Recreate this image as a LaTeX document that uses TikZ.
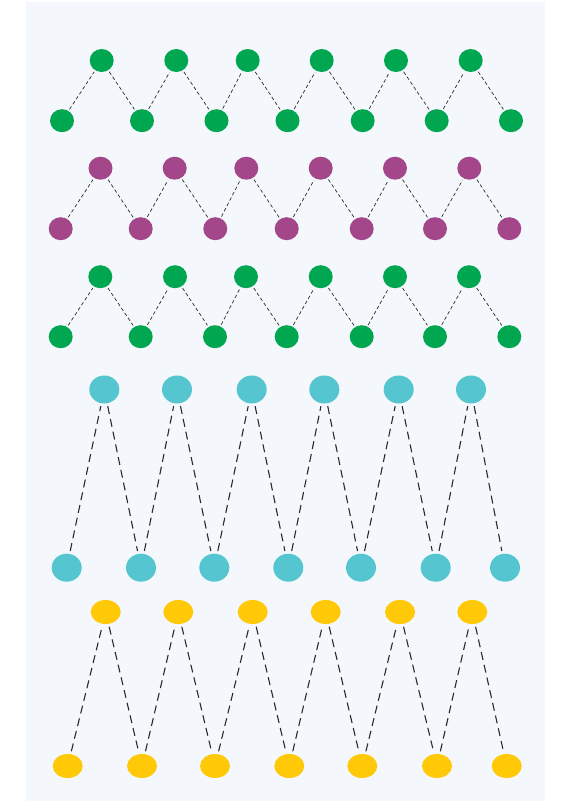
\documentclass[tikz,border=0pt]{standalone}
\usepackage{tikz}
\usetikzlibrary{shapes,positioning}

\definecolor{dotgreen}{HTML}{00A650}
\definecolor{dotplum}{HTML}{A4478A}
\definecolor{dotcyan}{HTML}{55C5CF}
\definecolor{dotyellow}{HTML}{FFC907}
\definecolor{paper}{HTML}{F4F8FC}
\definecolor{wire}{HTML}{2A2A2A}

\begin{document}
\begin{tikzpicture}[
    x=1pt, y=-1pt,
    dot/.style={ellipse, inner sep=0pt, outer sep=0pt},
    gdot/.style={dot, fill=dotgreen, minimum width=24pt, minimum height=23pt},
    pdot/.style={dot, fill=dotplum, minimum width=24pt, minimum height=23pt},
    cdot/.style={dot, fill=dotcyan, minimum width=30pt, minimum height=28pt},
    ydot/.style={dot, fill=dotyellow, minimum width=30pt, minimum height=24pt},
    link/.style={draw=wire, line width=0.7pt, dash pattern=on 3.5pt off 2.5pt, shorten <=2pt, shorten >=2pt},
    longlink/.style={draw=wire, line width=1.1pt, dash pattern=on 8pt off 5pt, shorten <=3pt, shorten >=3pt}
]

% Page and background panel
\useasboundingbox (0,0) rectangle (571,803);
\fill [paper] (26,2) rectangle (545,801);

% Row 1 (green)
\foreach \x [count=\i] in {101.7,176.3,247.7,321.7,396,470.7}
    \node [gdot] (aT\i) at (\x,60.5) {};
\foreach \x [count=\i] in {62,142,216.5,287.5,362.7,436.7,511}
    \node [gdot] (aB\i) at (\x,120.7) {};

% Row 2 (plum)
\foreach \x [count=\i] in {100.5,174.7,246.3,320.7,395,469.3}
    \node [pdot] (bT\i) at (\x,168.2) {};
\foreach \x [count=\i] in {60.7,140.7,215.3,286.7,361.7,435,509.3}
    \node [pdot] (bB\i) at (\x,228.7) {};

% Row 3 (green)
\foreach \x [count=\i] in {100.3,175,246,320.7,395,469}
    \node [gdot] (cT\i) at (\x,276.7) {};
\foreach \x [count=\i] in {60.7,140.7,215,286.7,361.7,435,509.3}
    \node [gdot] (cB\i) at (\x,336.7) {};

% Row 4 (cyan)
\foreach \x [count=\i] in {104.3,177,251.7,324.3,398.7,471}
    \node [cdot] (dT\i) at (\x,389.5) {};
\foreach \x [count=\i] in {66.7,141,214.3,288.3,361,435.7,505}
    \node [cdot] (dB\i) at (\x,567.7) {};

% Row 5 (yellow)
\foreach \x [count=\i] in {105.7,178.3,252.7,325.7,400,472.3}
    \node [ydot] (eT\i) at (\x,612) {};
\foreach \x [count=\i] in {67.7,142,215,289.3,362.3,437,506.7}
    \node [ydot] (eB\i) at (\x,766) {};

% Zigzag connectors
\foreach \i [evaluate=\i as \j using int(\i+1)] in {1,...,6} {
    \draw [link] (aB\i) -- (aT\i);
    \draw [link] (aT\i) -- (aB\j);
    \draw [link] (bB\i) -- (bT\i);
    \draw [link] (bT\i) -- (bB\j);
    \draw [link] (cB\i) -- (cT\i);
    \draw [link] (cT\i) -- (cB\j);
    \draw [longlink] (dB\i) -- (dT\i);
    \draw [longlink] (dT\i) -- (dB\j);
    \draw [longlink] (eB\i) -- (eT\i);
    \draw [longlink] (eT\i) -- (eB\j);
}

\end{tikzpicture}
\end{document}
